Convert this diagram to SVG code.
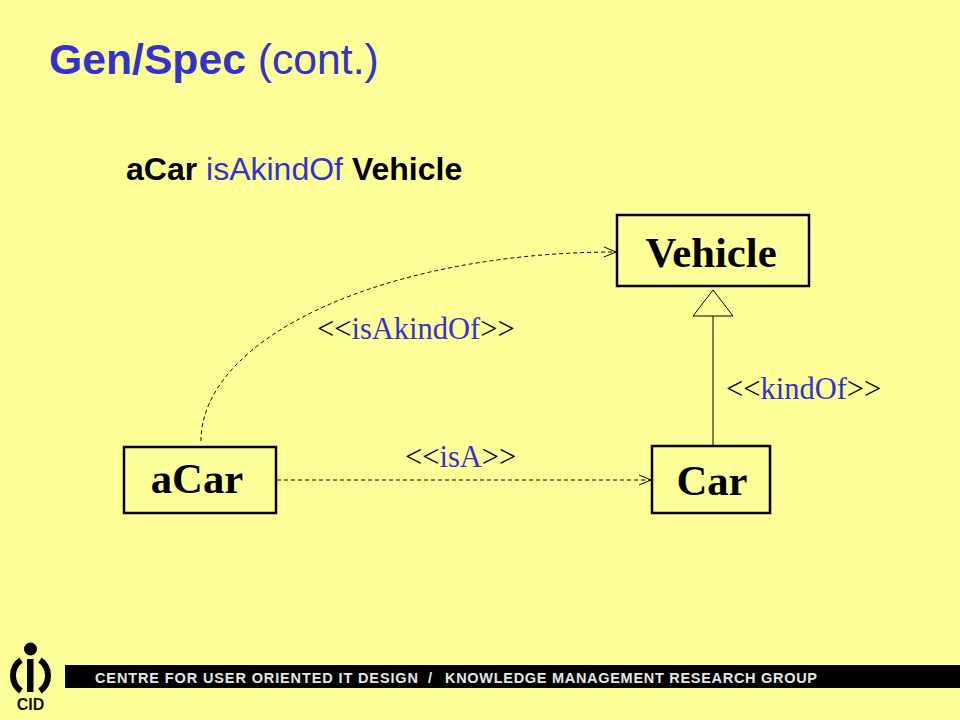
<svg xmlns="http://www.w3.org/2000/svg" width="960" height="720" viewBox="0 0 960 720">
<style>
.box{fill:#ffff99;stroke:#000;stroke-width:2.5}
.name{font-family:"Liberation Serif",serif;font-weight:bold;font-size:42.7px;fill:#000;text-anchor:middle}
.lbl{font-family:"Liberation Serif",serif;font-size:30.5px;fill:#000}
.blue{fill:#3333cc}
.sub{font-family:"Liberation Sans",sans-serif;font-size:32px}
.dash{fill:none;stroke:#000;stroke-width:1;stroke-dasharray:4 3}
.solid{fill:none;stroke:#000;stroke-width:1}
.ban{font-family:"Liberation Sans",sans-serif;font-weight:bold;font-size:14.5px;fill:#e6e6e6}
</style>
<defs>
<marker id="open" markerUnits="userSpaceOnUse" markerWidth="14" markerHeight="12" refX="13" refY="6" orient="auto"><path d="M1 1L13 6L1 11" fill="none" stroke="#000" stroke-width="1"/></marker>
</defs>
<rect width="960" height="720" fill="#ffff99"/>
<text x="49" y="74" font-family="'Liberation Sans',sans-serif" font-size="42.7" fill="#3333cc"><tspan font-weight="bold">Gen/Spec</tspan> (cont.)</text>
<text x="126" y="180" class="sub" xml:space="preserve"><tspan font-weight="bold" fill="#000">aCar</tspan><tspan fill="#3333cc"> isAkindOf </tspan><tspan font-weight="bold" fill="#000">Vehicle</tspan></text>
<g id="connectors">
<path class="dash" marker-end="url(#open)" d="M201 441A415 189 0 0 1 616 252"/>
<path class="dash" marker-end="url(#open)" d="M277 480H651"/>
<path class="solid" d="M713 445V316"/>
<path class="solid" d="M713 290L733 316H693Z"/>
</g>
<g id="vehicle"><rect class="box" x="617" y="215" width="192" height="71"/><text class="name" x="711" y="267">Vehicle</text></g>
<g id="acar"><rect class="box" x="124" y="447" width="152" height="66"/><text class="name" x="197" y="493">aCar</text></g>
<g id="car"><rect class="box" x="652" y="446" width="118" height="67"/><text class="name" x="712" y="495">Car</text></g>
<text x="317" y="339" class="lbl">&lt;&lt;<tspan class="blue">isAkindOf</tspan>&gt;&gt;</text>
<text x="726" y="399" class="lbl">&lt;&lt;<tspan class="blue">kindOf</tspan>&gt;&gt;</text>
<text x="405" y="467" class="lbl">&lt;&lt;<tspan class="blue">isA</tspan>&gt;&gt;</text>
<g id="logo">
<circle cx="30.5" cy="649" r="6.5" fill="#000"/>
<rect x="27" y="659" width="6.5" height="33" fill="#000"/>
<path d="M21 660A19 19 0 0 0 21 691" fill="none" stroke="#000" stroke-width="6"/>
<path d="M40 660A19 19 0 0 1 40 691" fill="none" stroke="#000" stroke-width="6"/>
<text x="30.5" y="710" font-family="'Liberation Sans',sans-serif" font-weight="bold" font-size="16" text-anchor="middle" fill="#111">CID</text>
</g>
<g id="banner">
<rect x="65" y="665" width="895" height="23" fill="#000"/>
<text x="95" y="683" class="ban" textLength="323" lengthAdjust="spacing">CENTRE FOR USER ORIENTED IT DESIGN</text>
<text x="428" y="683" class="ban">/</text>
<text x="445" y="683" class="ban" textLength="372" lengthAdjust="spacing">KNOWLEDGE MANAGEMENT RESEARCH GROUP</text>
</g>
</svg>
